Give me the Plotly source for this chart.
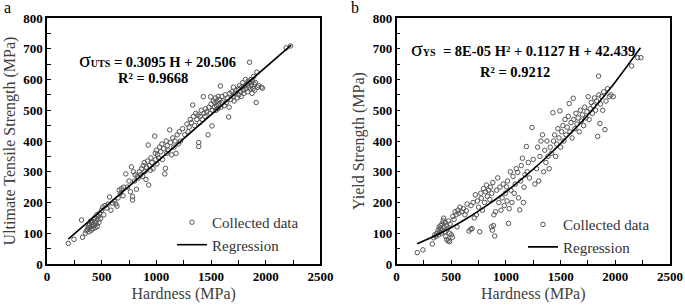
import plotly.graph_objects as go
from plotly.subplots import make_subplots

# ---------------- data ----------------
uts_h = [195,246,316,325,350,360,370,375,380,385,390,395,400,405,410,415,420,425,430,435,440,445,450,455,460,465,470,475,480,490,500,510,520,530,
         545,560,572,585,600,615,630,640,650,660,670,680,695,700,721,735,750,763,772,782,782,790,800,805,818,825,835,845,855,865,875,880,890,895,905,910,920,925,930,935,945,950,960,970,
         985,990,995,1000,1005,1010,1020,1030,1040,1050,1055,1065,1077,1083,1090,1095,1100,1110,1122,1130,1140,1150,1160,1170,1180,1190,1200,1210,1220,1240,1260,1280,1290,1300,1310,1320,1332,1340,1350,1360,1370,1380,1387,1387,1395,1400,1410,1420,1429,1435,1445,1450,1460,1472,1480,1490,1496,1500,1508,1515,1520,1530,1535,1540,1545,1550,1555,1560,1565,1570,1575,1585,1590,1595,1600,1610,1620,1630,1640,1650,1661,1665,1670,1680,1690,1700,1705,1710,1720,1730,1740,1750,1755,1760,1770,1775,1780,1790,1795,1800,1810,1815,1820,1830,1835,1840,1845,1852,1855,1860,1865,1870,1875,1880,1885,1890,1895,1900,1905,1913,1919,1925,1935,1959,1970,2187,2226]
uts_s = [67,80,143,87,100,108,112,118,125,105,130,120,140,110,128,135,115,145,125,150,118,138,130,160,122,145,155,135,165,148,175,185,160,190,
         182,195,218,175,198,205,195,188,215,240,230,245,222,250,293,250,270,235,316,219,208,300,270,290,243,285,280,300,290,310,285,320,330,300,275,315,335,387,257,320,305,345,330,310,
         416,360,340,370,325,355,345,380,365,390,340,375,293,311,400,360,385,370,436,395,355,410,380,400,360,420,390,430,400,440,420,455,430,445,470,460,517,480,450,490,470,485,382,395,460,480,500,470,544,490,480,505,495,420,510,490,544,520,449,500,530,510,525,540,500,515,530,505,545,520,535,579,510,525,545,530,515,550,525,540,478,510,555,535,560,545,575,530,555,565,540,570,550,580,560,545,575,590,565,555,580,600,570,585,560,595,575,656,590,570,600,580,555,595,570,610,585,565,590,525,624,575,580,575,572,703,709]

reg_a_h = [195, 2232]
reg_a_s = [81, 712]

ys_h = [189,241,327,340,350,360,370,380,385,390,395,400,405,410,415,420,425,430,435,440,445,450,455,460,465,470,475,485,485,490,500,510,515,525,535,545,553,560,570,580,595,610,625,638,645,662,678,680,690,700,710,720,730,740,750,760,770,775,785,795,805,815,821,830,840,852,860,867,870,876,880,886,890,897,905,915,925,935,945,955,965,975,985,995,1004,1010,1015,1023,1030,1040,1045,1055,1065,1075,1085,1095,1108,1115,1126,1135,1140,1151,1160,1165,1175,1187,1195,1205,1215,1239,1250,1265,1280,1290,1300,1310,1320,1334,1345,1355,1365,1375,1385,1395,1405,1415,1429,1435,1445,1455,1465,1475,1485,1493,1500,1510,1520,1530,1540,1550,1560,1570,1578,1585,1595,1605,1615,1620,1630,1640,1650,1660,1670,1680,1690,1700,1710,1720,1730,1740,1752,1760,1770,1780,1790,1800,1810,1820,1830,1838,1847,1850,1859,1865,1875,1885,1895,1905,1915,1930,1945,1960,1981,2149,2204,2234]
ys_s = [37,46,65,85,95,90,100,110,95,120,105,115,125,100,130,110,140,149,120,105,135,90,125,80,115,75,140,100,73,130,95,87,155,145,170,160,121,175,165,185,170,180,160,173,195,107,113,190,115,200,150,225,160,205,185,105,230,214,175,245,200,235,257,220,240,210,250,121,230,110,265,125,160,91,170,240,280,200,250,175,215,260,190,230,251,205,270,132,180,300,240,200,285,230,260,310,298,215,176,270,320,344,200,250,290,382,300,330,280,444,340,260,310,380,270,350,400,420,300,370,330,400,350,310,380,360,492,400,420,350,390,440,410,498,380,430,450,400,470,420,445,480,522,430,460,410,539,470,440,490,455,475,430,500,465,485,450,510,475,495,544,470,505,525,490,515,540,500,530,415,611,550,457,520,545,500,560,437,530,570,545,550,544,644,671,671]

reg_b_h = [189, 400, 600, 800, 1000, 1200, 1400, 1600, 1800, 2000, 2230]
reg_b_s = [66, 100, 139, 184, 235, 293, 357, 428, 505, 592, 703]

x_ticks = [0, 500, 1000, 1500, 2000, 2500]
x_labels = ["0", "500", "1000", "1500", "2000", "2500"]
y_ticks = [0, 100, 200, 300, 400, 500, 600, 700, 800]
y_labels = ["0", "100", "200", "300", "400", "500", "600", "700", "800"]

FONT = "Liberation Serif, Times New Roman, serif"
TITLE_C = "#404040"

fig = make_subplots(rows=1, cols=2, horizontal_spacing=0.1222)

marker = dict(symbol="circle-open", size=4.5, color="#555555", line=dict(width=1))

fig.add_trace(go.Scatter(x=uts_h, y=uts_s, mode="markers", marker=marker,
                         name="Collected data", legend="legend"), row=1, col=1)
fig.add_trace(go.Scatter(x=reg_a_h, y=reg_a_s, mode="lines", line=dict(color="black", width=1.6),
                         name="Regression", legend="legend"), row=1, col=1)
fig.add_trace(go.Scatter(x=ys_h, y=ys_s, mode="markers", marker=marker,
                         name="Collected data", legend="legend2"), row=1, col=2)
fig.add_trace(go.Scatter(x=reg_b_h, y=reg_b_s, mode="lines", line=dict(color="black", width=1.6, shape="spline"),
                         name="Regression", legend="legend2"), row=1, col=2)

axis_common = dict(showline=True, linecolor="black", linewidth=1.5, mirror=True,
                   ticks="inside", ticklen=4, tickcolor="black", showgrid=False, zeroline=False,
                   automargin=False,
                   tickfont=dict(family=FONT, size=13, color="black"))

for c, ytitle in [(1, "Ultimate Tensile Strength (MPa)"), (2, "Yield Strength (MPa)")]:
    fig.update_xaxes(range=[0, 2500], tickvals=x_ticks, ticktext=["<b>%s</b>" % t for t in x_labels],
                     minor=dict(dtick=250, tick0=0, ticks="inside", ticklen=4, tickcolor="black"),
                     title=dict(text="Hardness (MPa)", font=dict(family=FONT, size=16, color=TITLE_C), standoff=4),
                     row=1, col=c, **axis_common)
    fig.update_yaxes(range=[0, 800], tickvals=y_ticks, ticktext=["<b>%s</b>" % t for t in y_labels],
                     minor=dict(dtick=50, tick0=0, ticks="inside", ticklen=4, tickcolor="black"),
                     title=dict(text=ytitle, font=dict(family=FONT, size=16, color=TITLE_C), standoff=4),
                     row=1, col=c, **axis_common)

eq_font = dict(family=FONT, size=14.5, color="black")
fig.add_annotation(xref="x domain", yref="y domain", x=0.403, y=0.891, showarrow=False,
                   text="<span style='font-size:22px'>σ</span><b><span style='font-size:10px'>UTS</span> = 0.3095 H + 20.506</b>",
                   font=eq_font)
fig.add_annotation(xref="x domain", yref="y domain", x=0.387, y=0.797, showarrow=False,
                   text="<b>R² = 0.9668</b>", font=eq_font)
fig.add_annotation(xref="x2 domain", yref="y2 domain", x=0.461, y=0.936, showarrow=False,
                   text="<span style='font-size:22px'>σ</span><b><span style='font-size:10px'>YS</span>  = 8E-05 H² + 0.1127 H + 42.439</b>",
                   font=eq_font)
fig.add_annotation(xref="x2 domain", yref="y2 domain", x=0.432, y=0.821, showarrow=False,
                   text="<b>R² = 0.9212</b>", font=eq_font)

fig.add_annotation(xref="paper", yref="paper", x=-0.0642, y=1.0407, xanchor="center", yanchor="middle",
                   showarrow=False, text="a", font=dict(family=FONT, size=16, color="black"))
fig.add_annotation(xref="paper", yref="paper", x=0.4944, y=1.0407, xanchor="center", yanchor="middle",
                   showarrow=False, text="b", font=dict(family=FONT, size=16, color="black"))

leg_common = dict(bgcolor="rgba(0,0,0,0)", font=dict(family=FONT, size=15, color="#333333"),
                  xanchor="left", yanchor="top", tracegroupgap=0, itemwidth=30)
fig.update_layout(
    width=685, height=305,
    font=dict(family=FONT),
    margin=dict(l=47, r=15, t=18, b=41),
    paper_bgcolor="white", plot_bgcolor="white",
    legend=dict(x=0.2006, y=0.236, **leg_common),
    legend2=dict(x=0.764, y=0.227, **leg_common),
)

fig.write_html("out.html", config={"displayModeBar": False},
               post_script="document.body.style.margin='0px';")
